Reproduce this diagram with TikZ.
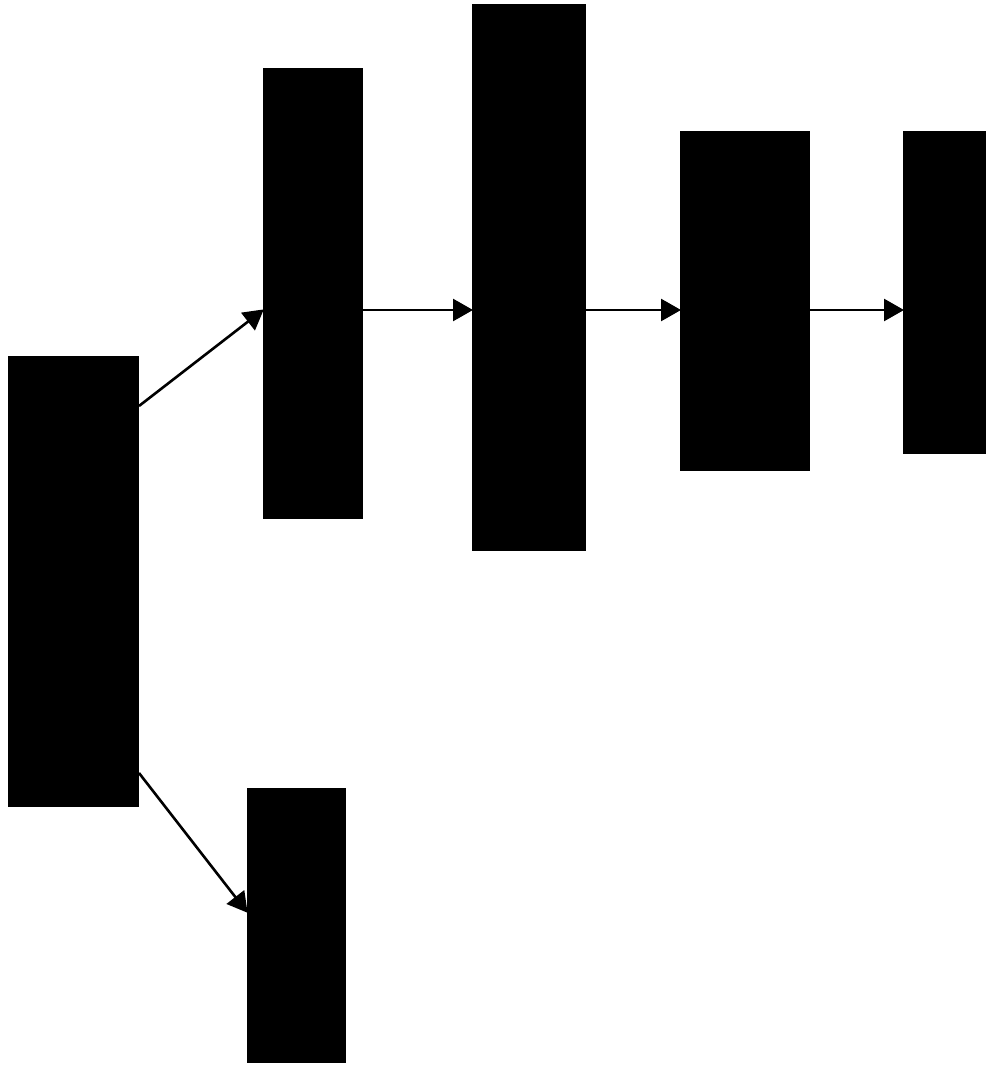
\documentclass[tikz,border=0pt]{standalone}
\usetikzlibrary{arrows.meta}
\begin{document}
\begin{tikzpicture}[x=1pt,y=-1pt,
  blk/.style={fill=black,draw=none,inner sep=0pt,outer sep=0pt,anchor=north west},
  conn/.style={line width=2.6pt,-{Triangle[length=20pt,width=22pt]},shorten >=-1pt}]
\useasboundingbox (0,0) rectangle (986,1067);
\node[blk,minimum width=131pt,minimum height=451pt] (A) at (8,356) {};
\node[blk,minimum width=100pt,minimum height=451pt] (B) at (263,68) {};
\node[blk,minimum width=114pt,minimum height=547pt] (C) at (472,4) {};
\node[blk,minimum width=130pt,minimum height=340pt] (D) at (680,131) {};
\node[blk,minimum width=83pt,minimum height=323pt] (E) at (903,131) {};
\node[blk,minimum width=99pt,minimum height=275pt] (F) at (247,788) {};
\coordinate (a1) at ([yshift=-50pt]A.north east);
\coordinate (b1) at ([yshift=-242pt]B.north west);
\coordinate (b2) at ([yshift=-242pt]B.north east);
\coordinate (a2) at ([yshift=34pt]A.south east);
\coordinate (f1) at ([yshift=-124pt]F.north west);
\draw[conn] (a1) -- (b1);
\draw[conn] (b2) -- (C.west |- b2);
\draw[conn] (C.east |- b2) -- (D.west |- b2);
\draw[conn] (D.east |- b2) -- (E.west |- b2);
\draw[conn] (a2) -- (f1);
\end{tikzpicture}
\end{document}
